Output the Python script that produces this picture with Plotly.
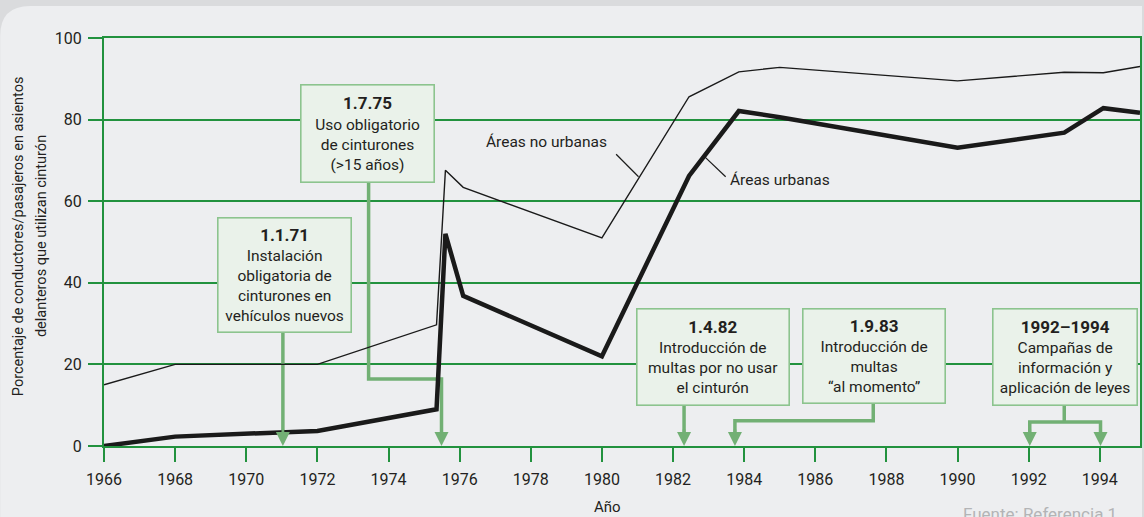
import plotly.graph_objects as go

# ---- data ----
years = [1966, 1968, 1972, 1975.35, 1975.6, 1976.1, 1980, 1982.45, 1983.85, 1985, 1990, 1993, 1994.1, 1995.13]
non_urban = [15, 20, 20, 29.7, 67.6, 63.4, 51.0, 85.6, 91.7, 92.8, 89.5, 91.6, 91.5, 93.0]
urban = [0, 2.3, 3.7, 9.0, 52.0, 36.8, 22.0, 66.2, 82.1, 80.6, 73.1, 76.8, 82.8, 81.7]
tick_years = list(range(1966, 1995, 2))
y_ticks = [0, 20, 40, 60, 80, 100]

FONT = "Roboto"
TXT = "#231f20"
GRID = "#22923e"
BOXC = "#8cc48e"
ARR = "#72b074"
PLOTBG = "#eaf2ea"
CARD = "#edeef0"
STRIP = "#dadbdd"

fig = go.Figure()
fig.add_trace(go.Scatter(x=years, y=non_urban, mode="lines",
                         line=dict(color="#1a1a1a", width=1.4), name="Áreas no urbanas",
                         showlegend=False))
fig.add_trace(go.Scatter(x=years, y=urban, mode="lines",
                         line=dict(color="#1a1a1a", width=4.5), name="Áreas urbanas",
                         showlegend=False))

W, H = 1144, 517
ML, MR, MT, MB = 104, 2, 38, 71
pw, ph = W - ML - MR, H - MT - MB


def px(xp):
    return (xp - ML) / pw


def py(yp):
    return (H - MB - yp) / ph


shapes = []
# card background with rounded top-left corner
shapes.append(dict(type="path", xref="paper", yref="paper", layer="below",
                   path=f"M {px(0)},{py(H)} L {px(0)},{py(36)} Q {px(0)},{py(6)} {px(30)},{py(6)} "
                        f"L {px(W)},{py(6)} L {px(W)},{py(H)} Z",
                   fillcolor=CARD, line=dict(width=0)))

# connectors (data coordinates)
conn = [
    [(1971.03, 27.8), (1971.03, 3)],
    [(1973.44, 64.7), (1973.44, 16.4), (1975.49, 16.4), (1975.49, 3)],
    [(1982.31, 9.9), (1982.31, 3)],
    [(1987.63, 10.3), (1987.63, 6.2), (1983.74, 6.2), (1983.74, 3)],
    [(1993.0, 10.0), (1993.0, 5.9)],
    [(1992.03, 3), (1992.03, 5.9), (1994.02, 5.9), (1994.02, 3)],
]
for c in conn:
    d = "M " + " L ".join(f"{a},{b}" for a, b in c)
    shapes.append(dict(type="path", xref="x", yref="y", layer="between", path=d,
                       line=dict(color=ARR, width=3.5)))

# leader lines
shapes.append(dict(type="line", xref="x", yref="y", x0=1980.40, y0=71.5, x1=1981.03, y1=66.0,
                   line=dict(color="#1a1a1a", width=1.2)))
shapes.append(dict(type="line", xref="x", yref="y", x0=1982.90, y0=70.8, x1=1983.48, y1=66.0,
                   line=dict(color="#1a1a1a", width=1.2)))

ann = []


def box(x, y, w, h, title, lines):
    t = f"<span style='font-size:17px'><b>{title}</b></span><br>" + "<br>".join(lines)
    ann.append(dict(x=x, y=y, xref="x", yref="y", xanchor="center", yanchor="middle",
                    text=t, showarrow=False, align="center",
                    font=dict(family=FONT, size=15.5, color=TXT),
                    bgcolor=PLOTBG, bordercolor=BOXC, borderwidth=1.6, borderpad=0,
                    width=w, height=h))


box(1971.07, 41.86, 132, 113, "1.1.71",
    ["Instalación", "obligatoria de", "cinturones en", "vehículos nuevos"])
box(1973.40, 76.67, 132, 96, "1.7.75", ["Uso obligatorio", "de cinturones", "(>15 años)"])
box(1983.13, 21.74, 151, 95, "1.4.82", ["Introducción de", "multas por no usar", "el cinturón"])
box(1987.65, 21.94, 141, 93, "1.9.83", ["Introducción de", "multas", "“al momento”"])
box(1993.02, 21.89, 143, 95, "1992–1994", ["Campañas de", "información y", "aplicación de leyes"])

# arrowheads
for xt in [1971.03, 1975.49, 1982.31, 1983.74, 1992.03, 1994.02]:
    ann.append(dict(x=xt, y=0, xref="x", yref="y", ax=0, ay=-18, axref="pixel", ayref="pixel",
                    text="", showarrow=True, arrowhead=2, arrowsize=1, arrowwidth=2.8,
                    arrowcolor=ARR, standoff=0))

# series labels
ann.append(dict(x=1978.44, y=74.5, xref="x", yref="y", text="Áreas no urbanas", showarrow=False,
                font=dict(family=FONT, size=15.5, color=TXT), xanchor="center", yanchor="middle"))
ann.append(dict(x=1985.02, y=65.2, xref="x", yref="y", text="Áreas urbanas", showarrow=False,
                font=dict(family=FONT, size=15.5, color=TXT), xanchor="center", yanchor="middle"))

# axis titles
ann.append(dict(x=px(18), y=py(236), xref="paper", yref="paper", text="Porcentaje de conductores/pasajeros en asientos",
                textangle=-90, showarrow=False, xanchor="center", yanchor="middle",
                font=dict(family=FONT, size=14.5, color=TXT)))
ann.append(dict(x=px(41), y=py(236), xref="paper", yref="paper", text="delanteros que utilizan cinturón",
                textangle=-90, showarrow=False, xanchor="center", yanchor="middle",
                font=dict(family=FONT, size=14.5, color=TXT)))
ann.append(dict(x=px(608), y=py(507), xref="paper", yref="paper", text="Año", showarrow=False,
                xanchor="center", yanchor="middle", font=dict(family=FONT, size=15, color=TXT)))
ann.append(dict(x=px(963), y=py(514), xref="paper", yref="paper", text="Fuente: Referencia 1",
                showarrow=False, xanchor="left", yanchor="middle",
                font=dict(family=FONT, size=17, color="#b3b4b6")))

fig.update_layout(
    width=W, height=H, autosize=False,
    margin=dict(l=ML, r=MR, t=MT, b=MB, pad=0),
    paper_bgcolor=STRIP, plot_bgcolor=PLOTBG,
    font=dict(family=FONT, size=16, color=TXT),
    shapes=shapes, annotations=ann, showlegend=False,
    xaxis=dict(range=[1966, 1995.13], tickmode="array", tickvals=tick_years,
               ticktext=[str(t) for t in tick_years],
               ticks="outside", ticklen=14, tickwidth=1.5, tickcolor=GRID,
               ticklabelstandoff=4,
               showgrid=False, zeroline=False, showline=True, linecolor=GRID, linewidth=2,
               mirror=True, tickfont=dict(family=FONT, size=16, color=TXT)),
    yaxis=dict(range=[0, 100], tickmode="array", tickvals=y_ticks,
               ticktext=[str(t) for t in y_ticks],
               ticks="outside", ticklen=14, tickwidth=1.5, tickcolor=GRID,
               ticklabelstandoff=3,
               showgrid=True, gridcolor=GRID, gridwidth=1.5, zeroline=False,
               showline=True, linecolor=GRID, linewidth=2, mirror=True,
               tickfont=dict(family=FONT, size=16, color=TXT)),
)

fig.write_html("out.html", config={"displayModeBar": False},
               post_script="document.body.style.margin='0';document.body.style.overflow='hidden';")
